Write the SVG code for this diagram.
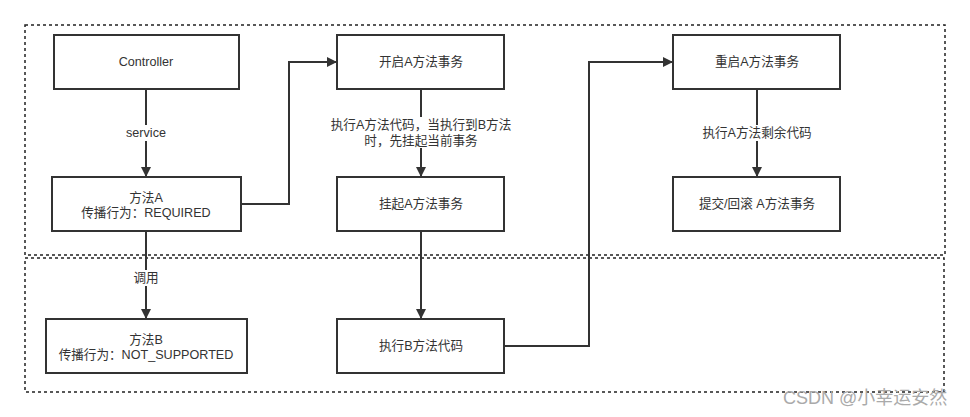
<svg xmlns="http://www.w3.org/2000/svg" width="970" height="417" viewBox="0 0 970 417">
<style>
  .grp { fill: none; stroke: #222; stroke-width: 1.5; stroke-dasharray: 3 3; }
  .box { fill: #fff; stroke: #333; stroke-width: 2; }
  .t { font-family: "Liberation Sans", "Noto Sans CJK SC", sans-serif; font-size: 12.6px; fill: #333; text-anchor: middle; }
  .edge { fill: none; stroke: #333; stroke-width: 2; }
  .lbl-bg { fill: #fff; }
  .wm { font-family: "Liberation Sans", "Noto Sans CJK SC", sans-serif; font-size: 18px; fill: #aaa; }
</style>
<defs>
  <marker id="arr" markerWidth="10" markerHeight="10" refX="9" refY="5" orient="auto" markerUnits="userSpaceOnUse">
    <path d="M0,0 L10,5 L0,10 Z" fill="#333"/>
  </marker>
</defs>
<rect width="970" height="417" fill="#fff"/>
<g id="groups">
  <rect class="grp" x="25" y="25" width="920" height="230"/>
  <rect class="grp" x="25" y="258" width="919" height="134"/>
</g>
<g id="connectors">
  <line class="edge" x1="146" y1="89" x2="146" y2="176" marker-end="url(#arr)"/>
  <polyline class="edge" points="241,204 289,204 289,62 336,62" marker-end="url(#arr)"/>
  <line class="edge" x1="421" y1="89" x2="421" y2="176" marker-end="url(#arr)"/>
  <line class="edge" x1="421" y1="231" x2="421" y2="318" marker-end="url(#arr)"/>
  <line class="edge" x1="146" y1="231" x2="146" y2="318" marker-end="url(#arr)"/>
  <polyline class="edge" points="504,346 589,346 589,62 672,62" marker-end="url(#arr)"/>
  <line class="edge" x1="757" y1="89" x2="757" y2="176" marker-end="url(#arr)"/>
  <rect class="lbl-bg" x="121" y="125" width="50" height="16"/>
  <text class="t" x="146" y="137">service</text>
  <rect class="lbl-bg" x="326" y="117" width="190" height="31"/>
  <text class="t" x="421" y="129">执行A方法代码，当执行到B方法</text>
  <text class="t" x="421" y="145">时，先挂起当前事务</text>
  <rect class="lbl-bg" x="132" y="270" width="28" height="16"/>
  <text class="t" x="146" y="282">调用</text>
  <rect class="lbl-bg" x="698" y="125" width="118" height="16"/>
  <text class="t" x="757" y="137">执行A方法剩余代码</text>
</g>
<g id="controller">
  <rect class="box" x="54" y="35" width="185" height="54"/>
  <text class="t" x="146" y="66">Controller</text>
</g>
<g id="methodA">
  <rect class="box" x="52" y="177" width="189" height="54"/>
  <text class="t" x="146" y="202">方法A</text>
  <text class="t" x="146" y="217">传播行为：REQUIRED</text>
</g>
<g id="startTxA">
  <rect class="box" x="337" y="35" width="167" height="54"/>
  <text class="t" x="421" y="66">开启A方法事务</text>
</g>
<g id="suspendTxA">
  <rect class="box" x="337" y="177" width="167" height="54"/>
  <text class="t" x="421" y="208">挂起A方法事务</text>
</g>
<g id="methodB">
  <rect class="box" x="46" y="319" width="201" height="54"/>
  <text class="t" x="146" y="344">方法B</text>
  <text class="t" x="146" y="359">传播行为：NOT_SUPPORTED</text>
</g>
<g id="execB">
  <rect class="box" x="337" y="319" width="167" height="54"/>
  <text class="t" x="421" y="350">执行B方法代码</text>
</g>
<g id="resumeTxA">
  <rect class="box" x="673" y="35" width="167" height="54"/>
  <text class="t" x="757" y="66">重启A方法事务</text>
</g>
<g id="commitTxA">
  <rect class="box" x="673" y="177" width="167" height="54"/>
  <text class="t" x="757" y="208">提交/回滚 A方法事务</text>
</g>
<text class="wm" x="783" y="404">CSDN @小幸运安然</text>
</svg>
